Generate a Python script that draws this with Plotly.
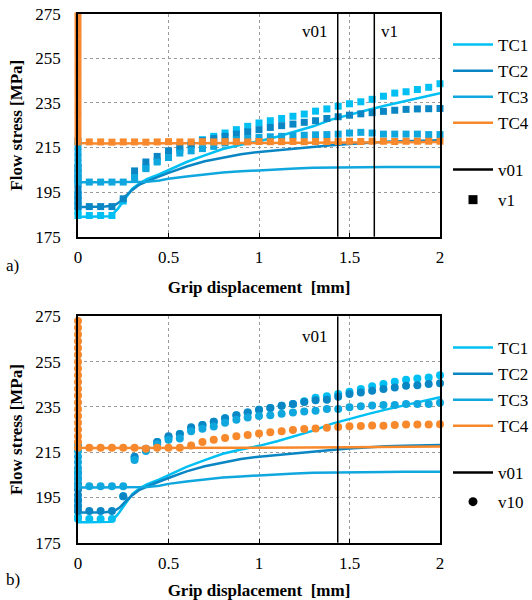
import plotly.graph_objects as go

# ---------------- data ----------------
series_names = ["TC1", "TC2", "TC3", "TC4"]
series_colors = ["#00BFF2", "#0A86C4", "#10A7DE", "#F7892C"]

# solid lines (v01) - same in both panels
tc1_line_x = [0, 0, 0.05, 0.10, 0.15, 0.18, 0.22, 0.26, 0.30, 0.34, 0.38, 0.45, 0.5, 0.6, 0.7, 0.8, 0.9, 1.0, 1.1, 1.2, 1.3, 1.4, 1.5, 1.6, 1.7, 1.8, 1.9, 2.0]
tc1_line_y = [193, 184, 184, 184, 184, 184.2, 187.5, 192, 196.5, 199, 200.8, 203, 204.8, 208.5, 211.5, 214.3, 216.2, 217.8, 219.8, 222, 224.5, 227.5, 229.8, 231.8, 233.8, 235.7, 237.5, 239.3]
tc2_line_x = [0, 0, 0.05, 0.10, 0.15, 0.20, 0.23, 0.26, 0.30, 0.34, 0.40, 0.5, 0.6, 0.7, 0.8, 0.9, 1.0, 1.1, 1.2, 1.3, 1.4, 1.5, 1.6, 1.7, 1.8, 1.9, 2.0]
tc2_line_y = [206, 188.3, 188.3, 188.3, 188.5, 189, 190.5, 193, 196, 198.4, 200.5, 203.6, 206.5, 208.8, 210.5, 212, 213, 213.8, 214.6, 215.4, 216, 216.6, 217.2, 217.6, 217.8, 218, 218.2]
tc3_line_x = [0, 0, 0.1, 0.2, 0.3, 0.38, 0.45, 0.5, 0.6, 0.7, 0.8, 0.9, 1.0, 1.1, 1.2, 1.3, 1.4, 1.5, 1.6, 1.7, 1.8, 1.9, 2.0]
tc3_line_y = [218, 199.4, 199.4, 199.4, 199.4, 199.6, 200.2, 201, 202, 203, 203.8, 204.3, 204.8, 205.3, 205.6, 205.9, 205.9, 205.9, 205.9, 206.2, 206.3, 206.3, 206.3]
tc4_line_x = [0, 0, 0.1, 0.5, 1.0, 1.5, 2.0]
tc4_line_y = [274.5, 217, 216.8, 216.8, 217, 217.2, 217.5]

# marker x positions
x_markers = [0.0625, 0.125, 0.1875, 0.25, 0.3125, 0.375, 0.4375, 0.5, 0.5625, 0.625, 0.6875, 0.75,
             0.8125, 0.875, 0.9375, 1.0, 1.0625, 1.125, 1.1875, 1.25, 1.3125, 1.375, 1.4375, 1.5,
             1.5625, 1.625, 1.6875, 1.75, 1.8125, 1.875, 1.9375, 2.0]

# v1 (squares, panel a)
tc1_v1 = [184.5, 184.5, 184.5, 191, 202, 206, 209, 212, 214, 216, 218.5, 220, 221.5, 223, 224.5, 226, 227, 228, 229, 230, 231.3, 232.3, 233.5, 234.6, 235.5, 236.6, 238, 239.4, 240, 241, 242, 243.6]
tc2_v1 = [188.5, 188.5, 188.5, 192, 204.5, 208.5, 211, 213.5, 215, 216.5, 218, 219, 220, 221, 222, 223, 224, 224.8, 225.5, 226.3, 227, 228, 228.8, 229.5, 230.1, 230.6, 231.2, 231.7, 232.1, 232.3, 232.4, 232.5]
tc3_v1 = [199.5, 199.5, 199.5, 199.5, 201.5, 205.5, 208.5, 210.5, 212.5, 213.5, 214.5, 215.5, 217, 218.5, 219, 219.5, 219.8, 220, 220.3, 220.5, 220.7, 220.8, 221, 221.5, 221.8, 221.5, 221, 221, 221, 221, 220.8, 220.8]
tc4_v1 = [217.5, 217.5, 217.4, 217.5, 217.5, 217.4, 217.5, 217.6, 217.5, 217.5, 217.6, 217.5, 217.6, 217.6, 217.5, 217.7, 217.6, 217.6, 217.7, 217.6, 217.7, 217.7, 217.7, 217.8, 217.7, 217.8, 217.8, 217.7, 217.8, 217.8, 217.8, 217.8]
# clustered points at zero displacement (v1)
tc1_v1_zero = [194, 191.5, 189, 186.5, 184.5]
tc2_v1_zero = [206, 203.5, 201, 198.5, 196, 193.5, 191, 188.5]
tc3_v1_zero = [218, 215.5, 213, 210.5, 208, 205.5, 203, 201, 199.5]
tc4_v1_zero = [274, 271, 268, 265, 262, 259, 256, 253, 250, 247, 244, 241, 238, 235, 232, 229, 226, 223, 220, 217.5]

# v10 (circles, panel b)
tc1_v10 = [185.5, 185.5, 185.5, 195.5, 212.5, 216, 219.5, 221.5, 223, 225.5, 227, 228.5, 230, 231.3, 232.5, 233.7, 234.5, 235.5, 236.3, 237.5, 239, 239.7, 240.7, 241.7, 242.9, 244.1, 245.1, 246.1, 247, 247.6, 248, 249]
tc2_v10 = [189, 189, 189, 195.5, 213, 216.5, 219.5, 222, 223, 226, 227, 228.5, 230, 231.3, 232.5, 233.7, 234.5, 235.5, 236.3, 237.2, 238, 238.2, 239.5, 240.7, 241.4, 242.2, 242.9, 243.6, 244.3, 244.6, 245.1, 245.5]
tc3_v10 = [200, 200, 200, 200, 211.5, 215.5, 218.5, 220.5, 221, 224.3, 225.3, 226.3, 228, 229.3, 230.3, 231, 231.3, 232, 232.5, 233, 233.3, 234.1, 234.1, 234.9, 235.3, 235.6, 235.9, 235.9, 236.3, 236.3, 236.3, 236.8]
tc4_v10 = [217, 217, 217, 217, 217, 216.5, 217, 217, 217, 218, 219.5, 220.5, 221.3, 222, 222.6, 223.2, 223.8, 224.3, 224.8, 225.2, 225.5, 225.8, 226.1, 226.5, 226.6, 226.8, 226.7, 227, 227.2, 227.2, 227.2, 227.3]
tc1_v10_zero = [194, 191.5, 189, 186.5, 185.5]
tc2_v10_zero = [206, 203.5, 201, 198.5, 196, 193.5, 191, 189]
tc3_v10_zero = [218, 215.5, 213, 210.5, 208, 205.5, 203, 200]
tc4_v10_zero = [273, 270, 267, 264, 261, 258, 255, 252, 249, 246, 243, 240, 237, 234, 231, 228, 225, 222, 219.5, 217]

# vertical reference lines
panel_a_vlines = {"v01": 1.435, "v1": 1.637}
panel_b_vlines = {"v01": 1.435}

y_ticks = [175, 195, 215, 235, 255, 275]
x_ticks = [0, 0.5, 1, 1.5, 2]
x_ticktext = ["0", "0.5", "1", "1.5", "2"]

# ---------------- figure ----------------
FONT = "Liberation Serif"
W, H = 532, 600

line_x = [tc1_line_x, tc2_line_x, tc3_line_x, tc4_line_x]
line_y = [tc1_line_y, tc2_line_y, tc3_line_y, tc4_line_y]

panels = [
    dict(xa="x", ya="y", leg="legend", leg_v="legend3", sym="square", size=7, mname="v1",
         vals=[tc1_v1, tc2_v1, tc3_v1, tc4_v1],
         zeros=[tc1_v1_zero, tc2_v1_zero, tc3_v1_zero, tc4_v1_zero]),
    dict(xa="x2", ya="y2", leg="legend2", leg_v="legend4", sym="circle", size=8, mname="v10",
         vals=[tc1_v10, tc2_v10, tc3_v10, tc4_v10],
         zeros=[tc1_v10_zero, tc2_v10_zero, tc3_v10_zero, tc4_v10_zero]),
]

fig = go.Figure()
for p in panels:
    for i in range(4):
        fig.add_trace(go.Scatter(
            x=line_x[i], y=line_y[i], mode="lines", name=series_names[i],
            line=dict(color=series_colors[i], width=2.5),
            xaxis=p["xa"], yaxis=p["ya"], legend=p["leg"], legendgroup="g%d" % i,
            cliponaxis=False, hoverinfo="skip"))
    for i in range(4):
        zx = [0] * len(p["zeros"][i])
        fig.add_trace(go.Scatter(
            x=zx + x_markers, y=p["zeros"][i] + p["vals"][i], mode="markers",
            marker=dict(symbol=p["sym"], size=p["size"], color=series_colors[i]),
            xaxis=p["xa"], yaxis=p["ya"], showlegend=False,
            cliponaxis=False, hoverinfo="skip"))
    fig.add_trace(go.Scatter(
        x=[None], y=[None], mode="lines", name="v01",
        line=dict(color="black", width=2.5),
        xaxis=p["xa"], yaxis=p["ya"], legend=p["leg_v"], legendgroup="h1"))
    fig.add_trace(go.Scatter(
        x=[None], y=[None], mode="markers", name=p["mname"],
        marker=dict(symbol=p["sym"], size=9, color="black"),
        xaxis=p["xa"], yaxis=p["ya"], legend=p["leg_v"], legendgroup="h2"))

xdom = [78 / W, 440 / W]
ydom_a = [1 - 236.7 / H, 1 - 13.7 / H]
ydom_b = [1 - 542.7 / H, 1 - 316.4 / H]

def xaxis_cfg(anchor):
    return dict(domain=xdom, range=[0, 2], tickvals=x_ticks, ticktext=x_ticktext,
                showgrid=True, gridcolor="#9a9a9a", griddash="dot", gridwidth=1,
                showline=True, linecolor="black", linewidth=1.5, mirror=True,
                ticks="inside", ticklen=4, tickcolor="black", zeroline=False,
                anchor=anchor, ticklabelstandoff=4, automargin=False,
                tickfont=dict(family=FONT, size=17, color="black"),
                title=dict(text="Grip displacement\u00a0 [mm]", standoff=15,
                           font=dict(family=FONT, size=17, color="black", weight="bold")))

def yaxis_cfg(dom, anchor):
    return dict(domain=dom, range=[175, 275], tickvals=y_ticks,
                showgrid=True, gridcolor="#9a9a9a", griddash="dot", gridwidth=1,
                showline=True, linecolor="black", linewidth=1.5, mirror=True,
                ticks="", zeroline=False, anchor=anchor, ticklabelstandoff=12,
                automargin=False,
                tickfont=dict(family=FONT, size=17, color="black"),
                title=dict(text="Flow stress [MPa]", standoff=8,
                           font=dict(family=FONT, size=17, color="black", weight="bold")))

shapes = []
annotations = []
for name, xv in panel_a_vlines.items():
    shapes.append(dict(type="line", xref="x", yref="y domain", x0=xv, x1=xv, y0=0, y1=1,
                       line=dict(color="black", width=1.5)))
for name, xv in panel_b_vlines.items():
    shapes.append(dict(type="line", xref="x2", yref="y2 domain", x0=xv, x1=xv, y0=0, y1=1,
                       line=dict(color="black", width=1.5)))

annotations.append(dict(text="v01", x=panel_a_vlines["v01"], xref="x", y=0.92, yref="y domain",
                        xanchor="right", yanchor="middle", xshift=-8, showarrow=False,
                        font=dict(family=FONT, size=17, color="black")))
annotations.append(dict(text="v1", x=panel_a_vlines["v1"], xref="x", y=0.92, yref="y domain",
                        xanchor="left", yanchor="middle", xshift=5, showarrow=False,
                        font=dict(family=FONT, size=17, color="black")))
annotations.append(dict(text="v01", x=panel_b_vlines["v01"], xref="x2", y=0.91, yref="y2 domain",
                        xanchor="right", yanchor="middle", xshift=-8, showarrow=False,
                        font=dict(family=FONT, size=17, color="black")))
annotations.append(dict(text="a)", x=4 / W, y=1 - 265 / H, xref="paper", yref="paper",
                        xanchor="left", yanchor="middle", showarrow=False,
                        font=dict(family=FONT, size=17, color="black")))
annotations.append(dict(text="b)", x=4 / W, y=1 - 579 / H, xref="paper", yref="paper",
                        xanchor="left", yanchor="middle", showarrow=False,
                        font=dict(family=FONT, size=17, color="black")))

def legend_cfg(top_px, gap):
    return dict(font=dict(family=FONT, size=17, color="black"), bgcolor="rgba(0,0,0,0)",
                traceorder="grouped", tracegroupgap=gap, itemwidth=40,
                xanchor="left", yanchor="top", x=448 / W, y=1 - top_px / H)

fig.update_layout(
    width=W, height=H, margin=dict(l=0, r=0, t=0, b=0, autoexpand=False),
    paper_bgcolor="white", plot_bgcolor="white",
    font=dict(family=FONT, color="black"),
    xaxis=xaxis_cfg("y"), yaxis=yaxis_cfg(ydom_a, "x"),
    xaxis2=xaxis_cfg("y2"), yaxis2=yaxis_cfg(ydom_b, "x2"),
    shapes=shapes, annotations=annotations,
    legend=legend_cfg(27, 1),
    legend3=legend_cfg(152, 5),
    legend2=legend_cfg(330, 1),
    legend4=legend_cfg(455, 4),
    showlegend=True,
)

fig.write_html("out.html", config={"displayModeBar": False},
               post_script="document.body.style.margin='0';document.body.style.padding='0';")
